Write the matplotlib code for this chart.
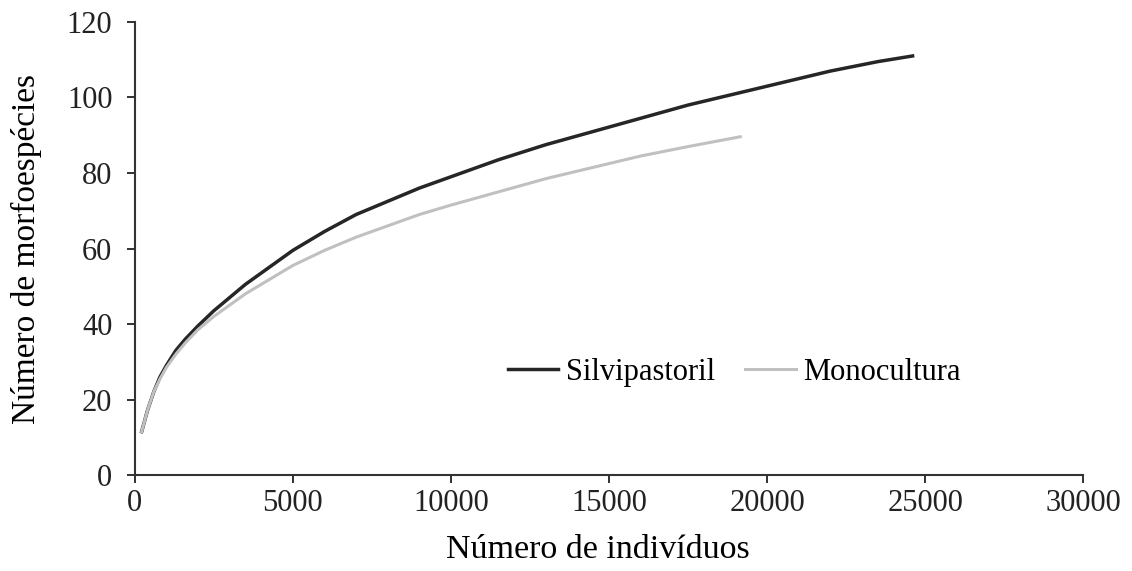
import numpy as np
import matplotlib.pyplot as plt

plt.rcParams['font.family'] = ['Liberation Serif', 'DejaVu Serif']

# curvas de rarefacao
silvi_x = [220, 400, 600, 800, 1000, 1300, 1600, 2000, 2500, 3000, 3500, 4000, 5000,
           6000, 7000, 8000, 9000, 10000, 11500, 13000, 14500, 16000, 17500, 19000,
           20500, 22000, 23500, 24600]
silvi_y = [11.5, 17, 22, 26, 29, 33, 36, 39.5, 43.5, 47, 50.5, 53.5, 59.5,
           64.5, 69, 72.5, 76, 79, 83.5, 87.5, 91, 94.5, 98, 101,
           104, 107, 109.5, 111]

mono_x = [220, 400, 600, 800, 1000, 1300, 1600, 2000, 2500, 3000, 3500, 4000, 5000,
          6000, 7000, 8000, 9000, 10000, 11500, 13000, 14500, 16000, 17500, 19150]
mono_y = [11.5, 17, 22, 25.5, 28.5, 32, 35, 38.5, 42, 45, 48, 50.5, 55.5,
          59.5, 63, 66, 69, 71.5, 75, 78.5, 81.5, 84.5, 87, 89.6]

fig = plt.figure(figsize=(11.32, 5.71), dpi=100)
ax = fig.add_axes([0.119, 0.168, 0.838, 0.7935])

ax.plot(silvi_x, silvi_y, color='#262626', lw=2.5, label='Silvipastoril')
ax.plot(mono_x, mono_y, color='#c0c0c0', lw=2.2, label='Monocultura')

ax.set_xlim(0, 30000)
ax.set_ylim(0, 120)
ax.set_xticks(np.arange(0, 30001, 5000))
ax.set_yticks(np.arange(0, 121, 20))
ax.tick_params(labelsize=22, direction='out', length=6, width=1.3, colors='#222222')
ax.tick_params(axis='x', pad=4)
ax.tick_params(axis='y', pad=10)
for s in ['top', 'right']:
	ax.spines[s].set_visible(False)
for s in ['left', 'bottom']:
	ax.spines[s].set_linewidth(1.5)
	ax.spines[s].set_color('#333333')

ax.set_xlabel('Número de indivíduos', fontsize=24.5, labelpad=12, x=0.488)
ax.set_ylabel('Número de morfoespécies', fontsize=24, labelpad=18)

ax.legend(loc='center', bbox_to_anchor=(0.632, 0.227), ncol=2, frameon=False,
		  fontsize=22, handlelength=1.65, handletextpad=0.25, columnspacing=1.0)

fig.savefig('out.png', dpi=100)
